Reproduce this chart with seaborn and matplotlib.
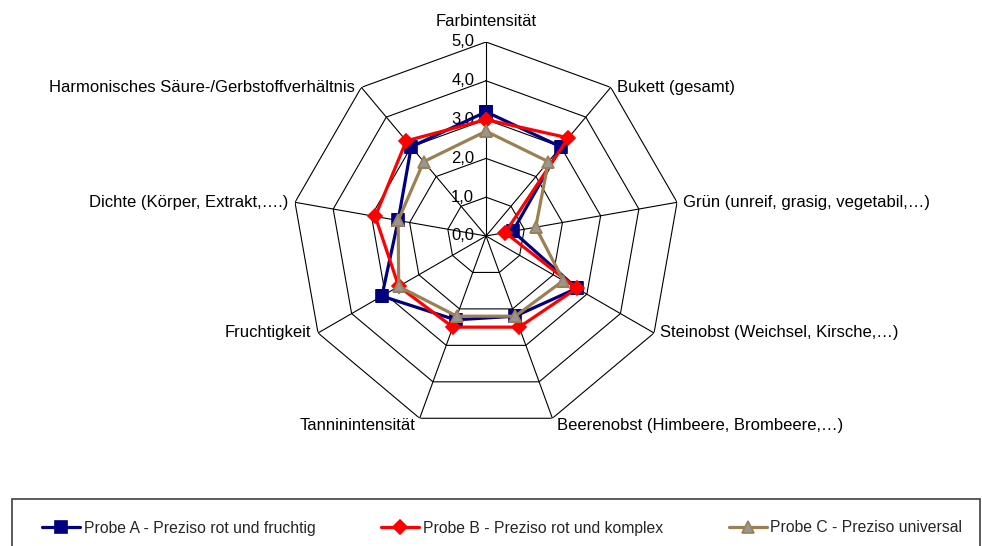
import numpy as np
import pandas as pd
import seaborn as sns
import matplotlib.pyplot as plt
from matplotlib.patches import Rectangle

# data
categories = [
    "Farbintensität",
    "Bukett (gesamt)",
    "Grün (unreif, grasig, vegetabil,…)",
    "Steinobst (Weichsel, Kirsche,…)",
    "Beerenobst (Himbeere, Brombeere,…)",
    "Tanninintensität",
    "Fruchtigkeit",
    "Dichte (Körper, Extrakt,….)",
    "Harmonisches Säure-/Gerbstoffverhältnis",
]
probe_a = [3.2, 3.0, 0.7, 2.7, 2.2, 2.3, 3.1, 2.3, 3.0]
probe_b = [3.0, 3.3, 0.5, 2.7, 2.5, 2.5, 2.6, 2.9, 3.2]
probe_c = [2.7, 2.5, 1.3, 2.3, 2.2, 2.2, 2.6, 2.3, 2.5]
series_names = [
    "Probe A - Preziso rot und fruchtig",
    "Probe B - Preziso rot und komplex",
    "Probe C - Preziso universal",
]
radial_ticks = [0, 1, 2, 3, 4, 5]
radial_labels = ["0,0", "1,0", "2,0", "3,0", "4,0", "5,0"]

sns.set_theme(style="white")
plt.rcParams["font.family"] = ["Liberation Sans", "DejaVu Sans"]

fig = plt.figure(figsize=(9.82, 5.46), dpi=100)
ax = fig.add_axes([0.2974, 0.2125, 0.3951, 0.7106], projection="polar")
ax.set_theta_zero_location("N")
ax.set_theta_direction(-1)
ax.grid(False)
ax.spines["polar"].set_visible(False)
ax.set_xticks([])
ax.set_yticks([])
ax.set_ylim(0, 5)
ax.set_facecolor("white")

n = len(categories)
theta = np.linspace(0, 2 * np.pi, n, endpoint=False)
theta_closed = np.append(theta, 2 * np.pi)

# polygon grid and spokes
for r in radial_ticks[1:]:
    ax.plot(theta_closed, [r] * (n + 1), color="black", lw=0.8, zorder=1)
for t in theta:
    ax.plot([t, t], [0, 5], color="black", lw=0.8, zorder=1)

# radial tick labels
for r, lab in zip(radial_ticks, radial_labels):
    ax.annotate(lab, xy=(0, r), xytext=(-8.5, 0), textcoords="offset points",
                ha="right", va="center", fontsize=12, color="black",
                annotation_clip=False)

# category labels
for i, (t, lab) in enumerate(zip(theta, categories)):
    deg = np.degrees(t)
    if i == 0:
        ha, va, off = "center", "center", (0, 14.5)
    elif deg < 150:
        ha, va, off = "left", "center", (4.5, 0)
    elif deg < 180:
        ha, va, off = "left", "top", (3, 0)
    elif deg < 210:
        ha, va, off = "right", "top", (-3, 0)
    else:
        ha, va, off = "right", "center", (-5, 0)
    ax.annotate(lab, xy=(t, 5), xytext=off, textcoords="offset points",
                ha=ha, va=va, fontsize=12, color="black", annotation_clip=False)

styles = [
    dict(color="#000080", marker="s", markersize=8, markerfacecolor="#000080",
         markeredgecolor="#000080"),
    dict(color="#FF0000", marker="D", markersize=7.5, markerfacecolor="#FF0000",
         markeredgecolor="#FF0000"),
    dict(color="#9C8052", marker="^", markersize=9, markerfacecolor="#969696",
         markeredgecolor="#9C8052"),
]

for name, vals, st in zip(series_names, [probe_a, probe_b, probe_c], styles):
    df = pd.DataFrame({"theta": theta_closed, "wert": list(vals) + [vals[0]]})
    sns.lineplot(data=df, x="theta", y="wert", ax=ax, sort=False, lw=2.3,
                 markeredgewidth=1.2, label=name, zorder=3, **st)

handles, labels = ax.get_legend_handles_labels()
if ax.get_legend() is not None:
    ax.get_legend().remove()
ax.set_xlabel("")
ax.set_ylabel("")

# legend box (runs off the bottom edge like the reference)
fig.patches.append(Rectangle((12 / 982, -0.2), 968 / 982, 0.2 + 47 / 546,
                             transform=fig.transFigure, fill=False,
                             edgecolor="#404040", lw=1.2))
fig.legend(handles, labels, loc="center left",
           bbox_to_anchor=(42 / 982, 1 - 528 / 546), ncol=3, frameon=False,
           fontsize=11.3, handlelength=2.4, handletextpad=0.25,
           columnspacing=4.2, borderpad=0, borderaxespad=0)

fig.savefig("out.png", dpi=100, facecolor="white")
